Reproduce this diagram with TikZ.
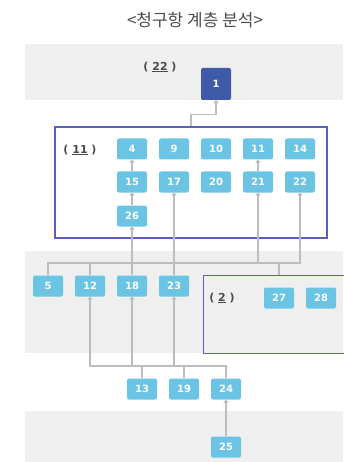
\documentclass[tikz,border=0pt]{standalone}
\usepackage{fontspec}
\setmainfont{DejaVu Sans}
\newfontfamily\krfont{Noto Sans CJK KR}
\usetikzlibrary{arrows.meta, positioning}
\definecolor{claimblue}{HTML}{6CC4E4}
\definecolor{rootblue}{HTML}{3E5AA8}
\definecolor{framepurple}{HTML}{5A5EBE}
\definecolor{bandgray}{HTML}{EFEFEF}
\definecolor{linegray}{HTML}{BDBDBD}
\tikzstyle{claim}=[fill=claimblue,rounded corners=2pt,minimum width=30pt,minimum height=21pt,inner sep=0pt,text=white,font=\bfseries\fontsize{10}{10}\selectfont]
\tikzstyle{root}=[claim,fill=rootblue,minimum height=32pt]
\tikzstyle{groupbox}=[draw=framepurple,line width=1.2pt,inner sep=0pt]
\tikzstyle{bandfill}=[fill=bandgray]
\tikzstyle{link}=[draw=linegray,line width=1.1pt]
\tikzstyle{tag}=[font=\bfseries\fontsize{11}{11}\selectfont,text=black!70]
\newcommand{\cnt}[1]{\underline{#1}}

\begin{document}
\begin{tikzpicture}[x=1pt,y=1pt,node distance=42pt,>={Straight Barb[length=2pt,width=4.5pt]}]
    \useasboundingbox (0,0) rectangle (343,-462);
    % background bands
    \fill[bandfill] (25,-44) rectangle (343,-100);
    \fill[bandfill] (25,-251) rectangle (343,-353);
    \fill[bandfill] (25,-411) rectangle (343,-462);
    \node[font=\krfont\fontsize{17}{17}\selectfont,text=black!70] (title) at (195,-20) {<청구항 계층 분석>};

    \node[tag] (l22) at (160,-67) {( \cnt{22} )};
    \node[root] (n1) at (216,-84) {1};

    \node[groupbox,minimum width=272pt,minimum height=111pt] (g11) at (191,-182.5) {};
    \node[tag] (l11) at (80,-150) {( \cnt{11} )};
    \node[claim] (n4) at (132,-149) {4};
    \node[claim,right of=n4] (n9) {9};
    \node[claim,right of=n9] (n10) {10};
    \node[claim,right of=n10] (n11) {11};
    \node[claim,right of=n11] (n14) {14};
    \node[claim,below of=n4,node distance=33pt] (n15) {15};
    \node[claim,right of=n15] (n17) {17};
    \node[claim,right of=n17] (n20) {20};
    \node[claim,right of=n20] (n21) {21};
    \node[claim,right of=n21] (n22) {22};
    \node[claim,below of=n15,node distance=34pt] (n26) {26};

    \node[claim] (n5) at (48,-286) {5};
    \node[claim,right of=n5] (n12) {12};
    \node[claim,right of=n12] (n18) {18};
    \node[claim,right of=n18] (n23) {23};
    \node[groupbox,anchor=north west,minimum width=150pt,minimum height=78pt] (g2) at (203,-275) {};
    \node[tag] (l2) at (222,-298) {( \cnt{2} )};
    \node[claim] (n27) at (279,-298) {27};
    \node[claim,right of=n27] (n28) {28};

    \node[claim] (n13) at (142,-389) {13};
    \node[claim,right of=n13] (n19) {19};
    \node[claim,right of=n19] (n24) {24};
    \node[claim,below of=n24,node distance=58pt] (n25) {25};

    % connectors
    \draw[link,->] (g11.north) -- ++(0,12) -| (n1);
    \draw[link,->] (n15) -- (n4);
    \draw[link,->] (n26) -- (n15);
    \draw[link,->] (n21) -- (n11);
    \coordinate (busA) at (48,-263);
    \draw[link,->] (n5) -- (busA) -| (n22);
    \draw[link] (n12) -- (n12 |- busA);
    \draw[link,->] (n18) -- (n26);
    \draw[link,->] (n23) -- (n17);
    \draw[link,->] (n21 |- busA) -- (n21);
    \draw[link] (g2.north -| n27) -- (n27 |- busA);
    \coordinate (busB) at (90,-366);
    \draw[link,->] (n24) |- (busB) -- (n12);
    \draw[link] (n13) -- (n13 |- busB);
    \draw[link] (n19) -- (n19 |- busB);
    \draw[link,->] (n18 |- busB) -- (n18);
    \draw[link,->] (n23 |- busB) -- (n23);
    \draw[link,->] (n25) -- (n24);
\end{tikzpicture}
\end{document}
